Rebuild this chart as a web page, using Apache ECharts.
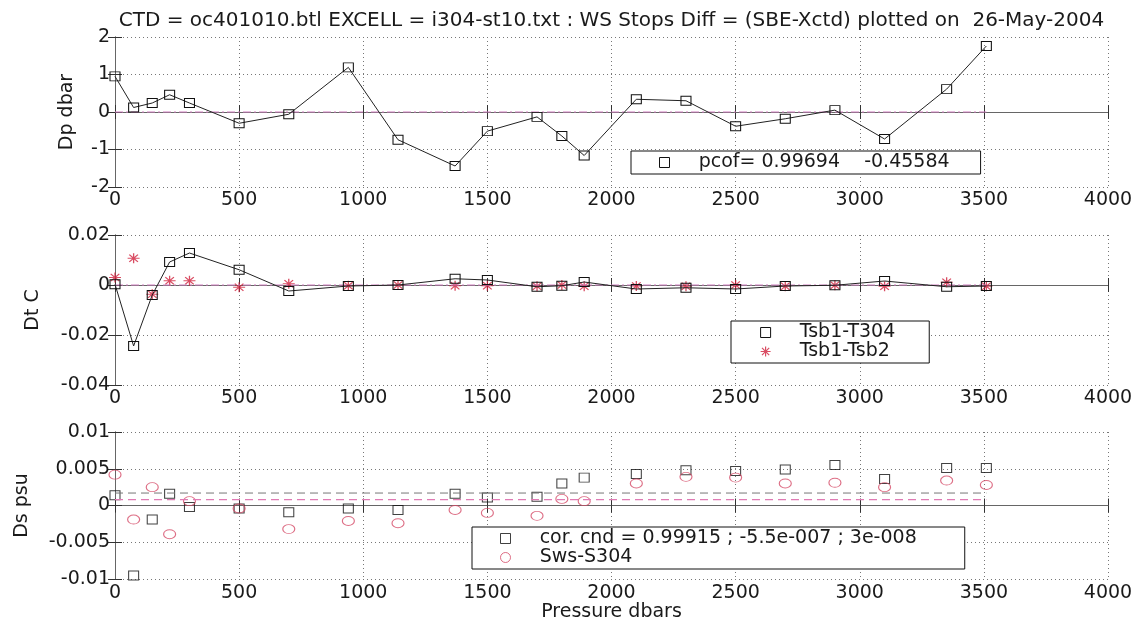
<!DOCTYPE html>
<html><head><meta charset="utf-8">
<script src="https://cdn.jsdelivr.net/npm/echarts@6/dist/echarts.min.js"></script>
<style>html,body{margin:0;padding:0;background:#fff}#c{width:1137px;height:623px}</style>
</head><body><div id="c"></div>
<script>
// ---- data ----
const pressure = [0, 75, 150, 220, 300, 500, 700, 940, 1140, 1370, 1500, 1700, 1800, 1890, 2100, 2300, 2500, 2700, 2900, 3100, 3350, 3510];
const dpDiff = [0.95, 0.12, 0.24, 0.46, 0.24, -0.30, -0.06, 1.19, -0.74, -1.44, -0.51, -0.13, -0.64, -1.16, 0.34, 0.30, -0.38, -0.18, 0.05, -0.72, 0.61, 1.76];
const dtT304 = [0.0003, -0.0244, -0.0040, 0.0092, 0.0128, 0.0061, -0.0024, -0.0004, 0.0000, 0.0025, 0.0020, -0.0007, -0.0003, 0.0012, -0.0016, -0.0011, -0.0016, -0.0004, -0.0001, 0.0016, -0.0007, -0.0004];
const dtTsb2 = [0.0030, 0.0107, -0.0037, 0.0017, 0.0017, -0.0009, 0.0005, -0.0003, 0.0000, -0.0003, -0.0003, -0.0005, 0.0000, -0.0005, -0.0004, -0.0005, 0.0000, -0.0005, -0.0001, -0.0005, 0.0011, -0.0005];
const dsCor = [0.0014, -0.0095, -0.0019, 0.0016, -0.0002, -0.0004, -0.0009, -0.0004, -0.0006, 0.0016, 0.0011, 0.0012, 0.0030, 0.0038, 0.0043, 0.0048, 0.0047, 0.0049, 0.0055, 0.0036, 0.0051, 0.0051];
const dsSws = [0.0042, -0.0019, 0.0025, -0.0039, 0.0006, -0.0004, -0.0032, -0.0021, -0.0024, -0.0006, -0.0010, -0.0014, 0.0009, 0.0006, 0.0030, 0.0039, 0.0038, 0.0030, 0.0031, 0.0025, 0.0034, 0.0028];
const xTicks = [0, 500, 1000, 1500, 2000, 2500, 3000, 3500, 4000];
const dpTicks = [-2, -1, 0, 1, 2];
const dtTicks = [-0.04, -0.02, 0, 0.02];
const dsTicks = [-0.01, -0.005, 0, 0.005, 0.01];
const dpZero = 0, dtZero = 0;
const dsMeanCor = 0.0017, dsMeanSws = 0.0008;
const titleText = 'CTD = oc401010.btl EXCELL = i304-st10.txt : WS Stops Diff = (SBE-Xctd) plotted on  26-May-2004';
const nameDp = 'pcof= 0.99694    -0.45584';
const nameT304 = 'Tsb1-T304', nameTsb2 = 'Tsb1-Tsb2';
const nameCor = 'cor. cnd = 0.99915 ; -5.5e-007 ; 3e-008', nameSws = 'Sws-S304';

// ---- styling / layout ----
const FONT = 'DejaVu Sans';
const FS = 19;
const pairs = (ys) => pressure.map((p, i) => [p, ys[i]]);
const levelLine = (v) => [[pressure[0], v], [pressure[pressure.length - 1], v]];
const gridTops = [37, 235, 432];
const grids = gridTops.map(t => ({left: 115, top: t, width: 993, height: 150}));
const tickStyle = {inside: true, length: 7, lineStyle: {color: '#333', width: 1}};
const axisLine = {show: true, lineStyle: {color: '#666', width: 1}};
const gridLine = {show: true, lineStyle: {color: '#777', type: [1, 3], width: 1}};
const lab = {color: '#1a1a1a', fontSize: FS, fontFamily: FONT};
const plain = v => String(v);

const xAxes = [], yAxes = [];
const yTicksAll = [dpTicks, dtTicks, dsTicks];
const yNames = ['Dp dbar', 'Dt C', 'Ds psu'];
const yNameGaps = [38, 72, 83];
for (let g = 0; g < 3; g++) {
  const xa = {type: 'value', gridIndex: g, min: xTicks[0], max: xTicks[xTicks.length - 1], interval: xTicks[1] - xTicks[0],
    axisLine, axisTick: tickStyle, splitLine: gridLine, axisLabel: Object.assign({margin: 4, formatter: plain}, lab)};
  if (g === 2) Object.assign(xa, {name: 'Pressure dbars', nameLocation: 'middle', nameGap: 22, nameTextStyle: lab});
  xAxes.push(xa);
  const xt = {type: 'value', gridIndex: g, position: 'top', min: xTicks[0], max: xTicks[xTicks.length - 1], interval: xTicks[1] - xTicks[0],
    axisLine, axisTick: tickStyle, splitLine: {show: false}, axisLabel: {show: false}};
  if (g === 0) Object.assign(xt, {name: titleText, nameLocation: 'middle', nameGap: 6, nameTextStyle: {color: '#1a1a1a', fontSize: 20, fontFamily: FONT}});
  xAxes.push(xt);
  const yt = yTicksAll[g];
  yAxes.push({type: 'value', gridIndex: g, min: yt[0], max: yt[yt.length - 1], interval: yt[1] - yt[0],
    axisLine, axisTick: tickStyle, splitLine: gridLine, axisLabel: Object.assign({margin: 5, formatter: plain}, lab),
    name: yNames[g], nameLocation: 'middle', nameGap: yNameGaps[g], nameTextStyle: lab});
  yAxes.push({type: 'value', gridIndex: g, position: 'right', min: yt[0], max: yt[yt.length - 1], interval: yt[1] - yt[0],
    axisLine, axisTick: tickStyle, splitLine: {show: false}, axisLabel: {show: false}});
}

const sq = {color: 'rgba(0,0,0,0)', borderColor: '#111', borderWidth: 1};
const star = 'path://M0,-5L0,5M-5,0L5,0M-3.6,-3.6L3.6,3.6M-3.6,3.6L3.6,-3.6';
const starStyle = {color: 'rgba(0,0,0,0)', borderColor: '#d0203c', borderWidth: 1.2};
const circStyle = {color: 'rgba(0,0,0,0)', borderColor: '#d44a66', borderWidth: 1};
const zeroStyle = {color: '#cf7fc0', width: 1.2, type: [8, 3, 2, 3]};

const series = [
  {type: 'line', xAxisIndex: 0, yAxisIndex: 0, data: levelLine(dpZero), symbol: 'none', silent: true, lineStyle: zeroStyle},
  {type: 'line', name: nameDp, xAxisIndex: 0, yAxisIndex: 0, data: pairs(dpDiff), symbol: 'rect', symbolSize: [10, 9],
    showAllSymbol: true, itemStyle: sq, lineStyle: {color: '#222', width: 1}},
  {type: 'line', xAxisIndex: 2, yAxisIndex: 2, data: levelLine(dtZero), symbol: 'none', silent: true, lineStyle: zeroStyle},
  {type: 'line', name: nameT304, xAxisIndex: 2, yAxisIndex: 2, data: pairs(dtT304), symbol: 'rect', symbolSize: [10, 9],
    showAllSymbol: true, itemStyle: sq, lineStyle: {color: '#222', width: 1}},
  {type: 'scatter', name: nameTsb2, xAxisIndex: 2, yAxisIndex: 2, data: pairs(dtTsb2), symbol: star, symbolSize: [12, 10],
    itemStyle: starStyle},
  {type: 'line', xAxisIndex: 4, yAxisIndex: 4, data: levelLine(dsMeanCor), symbol: 'none', silent: true,
    lineStyle: {color: '#777', width: 1, type: [8, 5]}},
  {type: 'line', xAxisIndex: 4, yAxisIndex: 4, data: levelLine(dsMeanSws), symbol: 'none', silent: true,
    lineStyle: {color: '#e07ab4', width: 1.2, type: [8, 5]}},
  {type: 'scatter', name: nameCor, xAxisIndex: 4, yAxisIndex: 4, data: pairs(dsCor), symbol: 'rect', symbolSize: [10, 9], itemStyle: sq},
  {type: 'scatter', name: nameSws, xAxisIndex: 4, yAxisIndex: 4, data: pairs(dsSws), symbol: 'circle', symbolSize: [12, 9], itemStyle: circStyle}
];

const legendBase = {orient: 'vertical', backgroundColor: '#fff', borderColor: '#111', borderWidth: 1,
  itemWidth: 10, itemHeight: 10, itemGap: 0, textStyle: Object.assign({}, lab), selectedMode: false,
  formatter: n => '    ' + n};
const legends = [
  Object.assign({}, legendBase, {left: 631, top: 151, padding: [2, 31, 2, 28],
    data: [{name: nameDp, icon: 'rect', itemStyle: sq}]}),
  Object.assign({}, legendBase, {left: 731, top: 321, padding: [2, 34, 2, 29],
    data: [{name: nameT304, icon: 'rect', itemStyle: sq}, {name: nameTsb2, icon: star, itemStyle: starStyle}]}),
  Object.assign({}, legendBase, {left: 472, top: 527, padding: [2, 48, 2, 28],
    data: [{name: nameCor, icon: 'rect', itemStyle: sq}, {name: nameSws, icon: 'circle', itemStyle: circStyle}]})
];

const chart = echarts.init(document.getElementById('c'), null, {renderer: 'canvas'});
chart.setOption({
  backgroundColor: '#fff', animation: false,
  grid: grids, xAxis: xAxes, yAxis: yAxes, series, legend: legends
});
</script></body></html>
